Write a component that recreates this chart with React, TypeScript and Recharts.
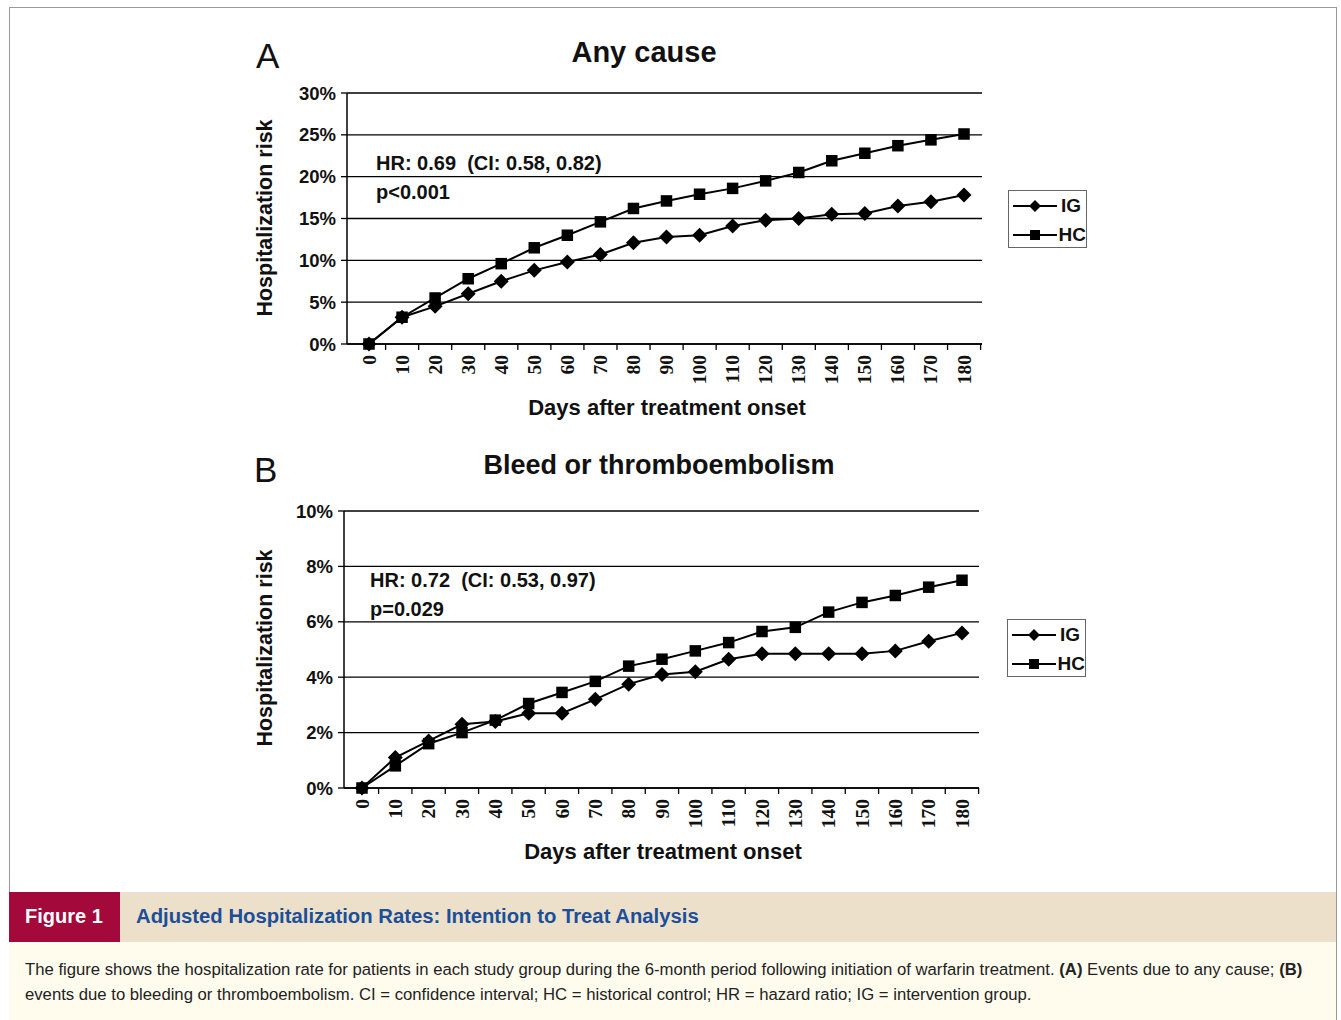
import React from "react";
import { LineChart, Line, XAxis, YAxis, CartesianGrid } from "recharts";

const days = [0, 10, 20, 30, 40, 50, 60, 70, 80, 90, 100, 110, 120, 130, 140, 150, 160, 170, 180];

// panel A: any cause (%)
const anyCauseIG = [0, 3.2, 4.5, 6.0, 7.5, 8.8, 9.8, 10.7, 12.1, 12.8, 13.0, 14.1, 14.8, 15.0, 15.5, 15.6, 16.5, 17.0, 17.8];
const anyCauseHC = [0, 3.2, 5.5, 7.8, 9.6, 11.5, 13.0, 14.6, 16.2, 17.1, 17.9, 18.6, 19.5, 20.5, 21.9, 22.8, 23.7, 24.4, 25.1];

// panel B: bleed or thromboembolism (%)
const bleedIG = [0, 1.1, 1.7, 2.3, 2.4, 2.7, 2.7, 3.2, 3.75, 4.1, 4.2, 4.65, 4.85, 4.85, 4.85, 4.85, 4.95, 5.3, 5.6];
const bleedHC = [0, 0.8, 1.6, 2.0, 2.45, 3.05, 3.45, 3.85, 4.4, 4.65, 4.95, 5.25, 5.65, 5.8, 6.35, 6.7, 6.95, 7.25, 7.5];

const ticksA = [0, 5, 10, 15, 20, 25, 30];
const ticksB = [0, 2, 4, 6, 8, 10];
const seriesNames = ["IG", "HC"];

const sans = "'Liberation Sans', Arial, sans-serif";

const rowsA = days.map((d, i) => ({ day: d, IG: anyCauseIG[i], HC: anyCauseHC[i] }));
const rowsB = days.map((d, i) => ({ day: d, IG: bleedIG[i], HC: bleedHC[i] }));

const Diamond = ({ cx, cy, r = 7 }: any) => (
  <polygon points={`${cx},${cy - r} ${cx + r},${cy} ${cx},${cy + r} ${cx - r},${cy}`} fill="#000" />
);
const Square = ({ cx, cy, s = 11 }: any) => (
  <rect x={cx - s / 2} y={cy - s / 2} width={s} height={s} fill="#000" />
);

const makeXTick = (half: number) => (props: any) => {
  const { x, y, payload } = props;
  const axisY = y - 8;
  return (
    <g>
      <line x1={x + half} x2={x + half} y1={axisY} y2={axisY + 6} stroke="#000" strokeWidth={1.3} />
      <text
        transform={`translate(${x},${y + 3}) rotate(-90)`}
        textAnchor="end"
        dominantBaseline="central"
        fontFamily="'Liberation Serif', 'Times New Roman', serif"
        fontWeight="bold"
        fontSize={19.5}
        fill="#111"
      >
        {payload.value}
      </text>
    </g>
  );
};

const LegendBox = ({ left, top }: { left: number; top: number }) => (
  <div
    style={{
      position: "absolute",
      left,
      top,
      width: 79,
      height: 58,
      border: "1.5px solid #666",
      background: "#fff",
      fontFamily: sans,
      fontWeight: "bold",
      fontSize: 19,
      color: "#111",
      boxSizing: "border-box",
      paddingTop: 3,
    }}
  >
    {seriesNames.map((k) => (
      <div key={k} style={{ display: "flex", alignItems: "center", height: 24, marginTop: k === "HC" ? 5 : 0 }}>
        <svg width={46} height={16} style={{ marginLeft: 4 }}>
          <line x1={0} x2={44} y1={8} y2={8} stroke="#000" strokeWidth={2} />
          {k === "IG" ? <Diamond cx={22} cy={8} r={6} /> : <Square cx={22} cy={8} s={10} />}
        </svg>
        <span style={{ marginLeft: 2 }}>{k}</span>
      </div>
    ))}
  </div>
);

type PanelProps = {
  rows: any[];
  ticks: number[];
  top: number;
  height: number;
  margin: { top: number; left: number; right: number; bottom: number };
  pad: { left: number; right: number };
};

const Panel = ({ rows, ticks, top, height, margin, pad }: PanelProps) => (
  <div style={{ position: "absolute", left: 0, top }}>
    <LineChart width={1341} height={height} data={rows} margin={margin}>
      <CartesianGrid vertical={false} stroke="#000" strokeWidth={1.3} />
      <XAxis
        dataKey="day"
        padding={pad}
        height={40}
        axisLine={{ stroke: "#000", strokeWidth: 1.5 }}
        tickLine={false}
        interval={0}
        tick={makeXTick(16.6)}
      />
      <YAxis
        domain={[ticks[0], ticks[ticks.length - 1]]}
        ticks={ticks}
        width={60}
        tickFormatter={(v) => `${v}%`}
        axisLine={{ stroke: "#000", strokeWidth: 1.5 }}
        tickLine={{ stroke: "#000", strokeWidth: 1.3 }}
        tickSize={6}
        tickMargin={5}
        tick={{ fontFamily: sans, fontWeight: "bold", fontSize: 18.5, fill: "#111" }}
      />
      <YAxis
        yAxisId="frame"
        orientation="right"
        width={0}
        tick={false}
        tickLine={false}
        axisLine={{ stroke: "#000", strokeWidth: 1.5 }}
      />
      <Line
        dataKey="IG"
        stroke="#000"
        strokeWidth={2}
        isAnimationActive={false}
        dot={(p: any) => <Diamond key={`ig-${p.index}`} cx={p.cx} cy={p.cy} r={7.5} />}
        activeDot={false}
      />
      <Line
        dataKey="HC"
        stroke="#000"
        strokeWidth={2}
        isAnimationActive={false}
        dot={(p: any) => <Square key={`hc-${p.index}`} cx={p.cx} cy={p.cy} s={11.5} />}
        activeDot={false}
      />
    </LineChart>
  </div>
);

const abs = (s: React.CSSProperties): React.CSSProperties => ({ position: "absolute", whiteSpace: "nowrap", ...s });

export default function App() {
  return (
    <div style={{ position: "absolute", left: 0, top: 0, width: 1341, height: 1020, background: "#fff", overflow: "hidden" }}>
      <div style={abs({ left: 9, top: 7, width: 1326, height: 1020, borderLeft: "1px solid #999", borderTop: "1px solid #999", borderRight: "1px solid #999" })} />

      <Panel
        rows={rowsA}
        ticks={ticksA}
        top={0}
        height={440}
        margin={{ top: 93, left: 287, right: 359, bottom: 56 }}
        pad={{ left: 22, right: 18 }}
      />
      <Panel
        rows={rowsB}
        ticks={ticksB}
        top={420}
        height={440}
        margin={{ top: 91, left: 284, right: 362, bottom: 32 }}
        pad={{ left: 18, right: 17 }}
      />
      <LegendBox left={1008} top={190} />
      <LegendBox left={1007} top={619} />

      {/* panel A texts */}
      <div style={abs({ left: 256, top: 36, fontFamily: sans, fontSize: 35, color: "#111" })}>A</div>
      <div style={abs({ left: 644, top: 36, transform: "translateX(-50%)", fontFamily: sans, fontWeight: "bold", fontSize: 29, color: "#111" })}>
        Any cause
      </div>
      <div style={abs({ left: 265, top: 218, transform: "translate(-50%,-50%) rotate(-90deg)", fontFamily: sans, fontWeight: "bold", fontSize: 21.5, color: "#111" })}>
        Hospitalization risk
      </div>
      <div style={abs({ left: 376, top: 149, fontFamily: sans, fontWeight: "bold", fontSize: 20, lineHeight: "29px", color: "#111", whiteSpace: "pre" })}>
        {"HR: 0.69  (CI: 0.58, 0.82)\np<0.001"}
      </div>
      <div style={abs({ left: 667, top: 395, transform: "translateX(-50%)", fontFamily: sans, fontWeight: "bold", fontSize: 22, color: "#111" })}>
        Days after treatment onset
      </div>

      {/* panel B texts */}
      <div style={abs({ left: 254, top: 450, fontFamily: sans, fontSize: 35, color: "#111" })}>B</div>
      <div style={abs({ left: 659, top: 450, transform: "translateX(-50%)", fontFamily: sans, fontWeight: "bold", fontSize: 27, color: "#111" })}>
        Bleed or thromboembolism
      </div>
      <div style={abs({ left: 265, top: 648, transform: "translate(-50%,-50%) rotate(-90deg)", fontFamily: sans, fontWeight: "bold", fontSize: 21.5, color: "#111" })}>
        Hospitalization risk
      </div>
      <div style={abs({ left: 370, top: 566, fontFamily: sans, fontWeight: "bold", fontSize: 20, lineHeight: "29px", color: "#111", whiteSpace: "pre" })}>
        {"HR: 0.72  (CI: 0.53, 0.97)\np=0.029"}
      </div>
      <div style={abs({ left: 663, top: 839, transform: "translateX(-50%)", fontFamily: sans, fontWeight: "bold", fontSize: 22, color: "#111" })}>
        Days after treatment onset
      </div>

      {/* caption */}
      <div style={abs({ left: 9, top: 892, width: 1327, height: 50, background: "#ECE0CA" })}>
        <div style={abs({ left: 0, top: 0, width: 111, height: 50, background: "#A3093A" })} />
        <div style={abs({ left: 16, top: 13, fontFamily: sans, fontWeight: "bold", fontSize: 20, color: "#fff" })}>Figure 1</div>
        <div style={abs({ left: 127, top: 13, fontFamily: sans, fontWeight: "bold", fontSize: 20.3, color: "#1C4F99" })}>
          Adjusted Hospitalization Rates: Intention to Treat Analysis
        </div>
      </div>
      <div style={abs({ left: 9, top: 942, width: 1327, height: 78, background: "#FFFCEE" })}>
        <div style={abs({ left: 16, top: 15, fontFamily: sans, fontSize: 16.7, lineHeight: "25px", color: "#222", whiteSpace: "pre" })}>
          The figure shows the hospitalization rate for patients in each study group during the 6-month period following initiation of warfarin treatment. <b>(A)</b> Events due to any cause; <b>(B)</b>
          {"\n"}events due to bleeding or thromboembolism. CI = confidence interval; HC = historical control; HR = hazard ratio; IG = intervention group.
        </div>
      </div>
    </div>
  );
}
